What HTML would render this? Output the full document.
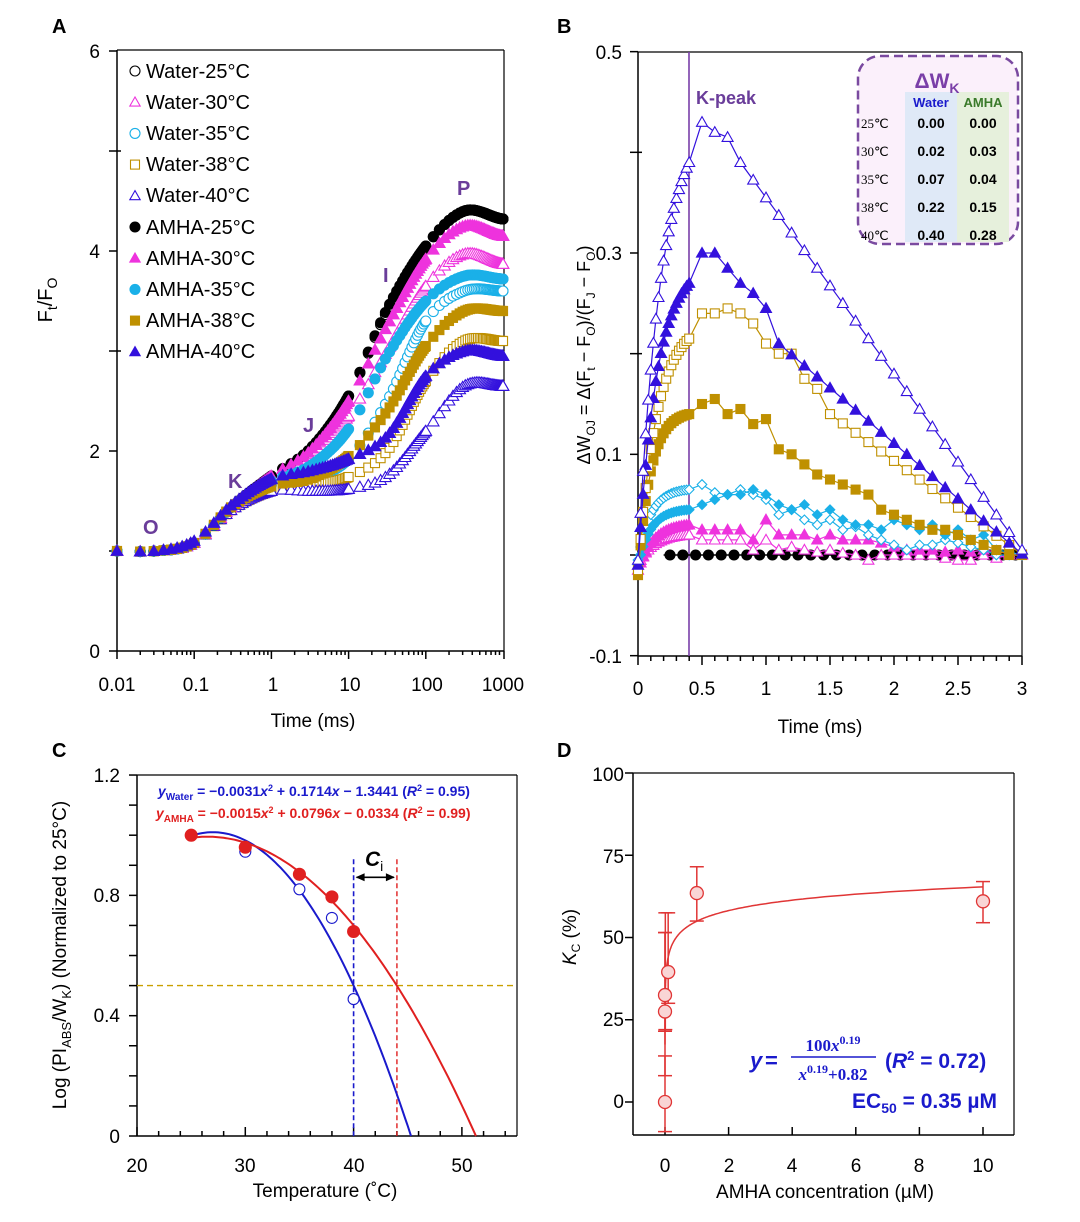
<!DOCTYPE html>
<html><head><meta charset="utf-8">
<style>
html,body{margin:0;padding:0;background:#fff;}
svg{display:block;font-family:"Liberation Sans",Arial,sans-serif;}
</style></head>
<body>
<svg id="s" width="1080" height="1222" viewBox="0 0 1080 1222" xmlns="http://www.w3.org/2000/svg">
<rect width="1080" height="1222" fill="#fff"/>
<g id="g"></g>
<g font-weight="bold" font-size="20" fill="#000">
<text x="52" y="33">A</text><text x="557" y="33">B</text>
<text x="52" y="757">C</text><text x="557" y="757">D</text>
</g>
<g font-size="19" text-anchor="middle" fill="#000">
<text x="117" y="691">0.01</text><text x="196" y="691">0.1</text><text x="273" y="691">1</text>
<text x="350" y="691">10</text><text x="427" y="691">100</text><text x="503" y="691">1000</text>
</g>
<g font-size="19" text-anchor="end" fill="#000">
<text x="100" y="58">6</text><text x="100" y="258">4</text><text x="100" y="458">2</text><text x="100" y="658">0</text>
</g>
<text x="313" y="727" font-size="19" text-anchor="middle">Time (ms)</text>
<text transform="translate(52,300) rotate(-90)" font-size="20" text-anchor="middle">F<tspan font-size="14" dy="5">t</tspan><tspan dy="-5">/F</tspan><tspan font-size="14" dy="5">O</tspan></text>
<g font-size="20" fill="#000">
<text x="146" y="78">Water-25°C</text><text x="146" y="109">Water-30°C</text><text x="146" y="140">Water-35°C</text>
<text x="146" y="171">Water-38°C</text><text x="146" y="202">Water-40°C</text><text x="146" y="234">AMHA-25°C</text>
<text x="146" y="265">AMHA-30°C</text><text x="146" y="296">AMHA-35°C</text><text x="146" y="327">AMHA-38°C</text>
<text x="146" y="358">AMHA-40°C</text>
</g>
<g font-size="20" font-weight="bold" fill="#6a3d9a">
<text x="143" y="534">O</text><text x="228" y="488">K</text><text x="303" y="432">J</text>
<text x="383" y="282">I</text><text x="457" y="195">P</text>
</g>
<g font-size="19" text-anchor="middle">
<text x="638" y="695">0</text><text x="702" y="695">0.5</text><text x="766" y="695">1</text><text x="830" y="695">1.5</text>
<text x="894" y="695">2</text><text x="958" y="695">2.5</text><text x="1022" y="695">3</text>
</g>
<g font-size="19" text-anchor="end">
<text x="622" y="59">0.5</text><text x="622" y="260">0.3</text><text x="622" y="461">0.1</text><text x="622" y="663">-0.1</text>
</g>
<text x="820" y="733" font-size="19" text-anchor="middle">Time (ms)</text>
<text transform="translate(590,355) rotate(-90)" font-size="18" text-anchor="middle">ΔW<tspan font-size="12" dy="5">OJ</tspan><tspan dy="-5"> = Δ(F</tspan><tspan font-size="12" dy="5">t</tspan><tspan dy="-5"> − F</tspan><tspan font-size="12" dy="5">O</tspan><tspan dy="-5">)/(F</tspan><tspan font-size="12" dy="5">J</tspan><tspan dy="-5"> − F</tspan><tspan font-size="12" dy="5">O</tspan><tspan dy="-5">)</tspan></text>
<text x="696" y="104" font-size="18" font-weight="bold" fill="#6a3d9a">K-peak</text>
<g font-size="19" text-anchor="middle">
<text x="137" y="1172">20</text><text x="245" y="1172">30</text><text x="354" y="1172">40</text><text x="462" y="1172">50</text>
</g>
<g font-size="19" text-anchor="end">
<text x="120" y="782">1.2</text><text x="120" y="902">0.8</text><text x="120" y="1022">0.4</text><text x="120" y="1143">0</text>
</g>
<text x="325" y="1197" font-size="19" text-anchor="middle">Temperature (˚C)</text>
<text transform="translate(66,955) rotate(-90)" font-size="19" text-anchor="middle">Log (PI<tspan font-size="13" dy="5">ABS</tspan><tspan dy="-5">/W</tspan><tspan font-size="13" dy="5">K</tspan><tspan dy="-5">) (Normalized  to 25°C)</tspan></text>
<g font-size="14" font-weight="bold">
<text x="158" y="796" fill="#1a1acc"><tspan font-style="italic">y</tspan><tspan font-size="10" dy="4">Water</tspan><tspan dy="-4"> = −0.0031</tspan><tspan font-style="italic">x</tspan><tspan font-size="9" dy="-5">2</tspan><tspan dy="5"> + 0.1714</tspan><tspan font-style="italic">x</tspan> − 1.3441 (<tspan font-style="italic">R</tspan><tspan font-size="9" dy="-5">2</tspan><tspan dy="5"> = 0.95)</tspan></text>
<text x="156" y="818" fill="#e02020"><tspan font-style="italic">y</tspan><tspan font-size="10" dy="4">AMHA</tspan><tspan dy="-4"> = −0.0015</tspan><tspan font-style="italic">x</tspan><tspan font-size="9" dy="-5">2</tspan><tspan dy="5"> + 0.0796</tspan><tspan font-style="italic">x</tspan> − 0.0334 (<tspan font-style="italic">R</tspan><tspan font-size="9" dy="-5">2</tspan><tspan dy="5"> = 0.99)</tspan></text>
</g>
<text x="365" y="866" font-size="21" font-weight="bold" font-style="italic">C<tspan font-size="14" font-style="normal" font-weight="normal" dy="5">i</tspan></text>
<g font-size="19" text-anchor="middle">
<text x="665" y="1172">0</text><text x="729" y="1172">2</text><text x="792" y="1172">4</text><text x="856" y="1172">6</text>
<text x="919" y="1172">8</text><text x="983" y="1172">10</text>
</g>
<g font-size="19" text-anchor="end">
<text x="624" y="781">100</text><text x="624" y="863">75</text><text x="624" y="944">50</text><text x="624" y="1026">25</text><text x="624" y="1108">0</text>
</g>
<text x="825" y="1198" font-size="19" text-anchor="middle">AMHA concentration (µM)</text>
<text transform="translate(576,937) rotate(-90)" font-size="19" text-anchor="middle"><tspan font-style="italic">K</tspan><tspan font-size="12" dy="4">C</tspan><tspan dy="-4"> (%)</tspan></text>
<g fill="#1a1acc" font-weight="bold">
<text x="750" y="1068" font-size="22" font-style="italic">y</text>
<text x="765" y="1068" font-size="22">=</text>
<text x="833" y="1051" font-size="17" font-family="Liberation Serif,serif" text-anchor="middle">100<tspan font-style="italic">x</tspan><tspan font-size="12" dy="-7">0.19</tspan></text>
<line x1="791" y1="1057" x2="876" y2="1057" stroke="#1a1acc" stroke-width="1.4"/>
<text x="833" y="1080" font-size="17" font-family="Liberation Serif,serif" text-anchor="middle"><tspan font-style="italic">x</tspan><tspan font-size="12" dy="-7">0.19</tspan><tspan dy="7">+0.82</tspan></text>
<text x="885" y="1068" font-size="21">(<tspan font-style="italic">R</tspan><tspan font-size="13" dy="-8">2</tspan><tspan dy="8"> = 0.72)</tspan></text>
<text x="997" y="1108" font-size="21" text-anchor="end">EC<tspan font-size="14" dy="5">50</tspan><tspan dy="-5"> = 0.35 µM</tspan></text>
</g>
</svg>
<script>
(function(){
var out=[];
function P(s){out.push(s);}
function mk(type,x,y,col,fill,r){
  var f=fill?col:'#fff', sw=1.1;
  if(type=='c') P('<circle cx="'+x.toFixed(1)+'" cy="'+y.toFixed(1)+'" r="'+r+'" fill="'+f+'" stroke="'+col+'" stroke-width="'+sw+'"/>');
  else if(type=='t'){var h=r*1.15;P('<polygon points="'+x.toFixed(1)+','+(y-h).toFixed(1)+' '+(x-h).toFixed(1)+','+(y+h*0.75).toFixed(1)+' '+(x+h).toFixed(1)+','+(y+h*0.75).toFixed(1)+'" fill="'+f+'" stroke="'+col+'" stroke-width="'+sw+'"/>');}
  else if(type=='s') P('<rect x="'+(x-r).toFixed(1)+'" y="'+(y-r).toFixed(1)+'" width="'+(2*r)+'" height="'+(2*r)+'" fill="'+f+'" stroke="'+col+'" stroke-width="'+sw+'"/>');
  else if(type=='d') P('<polygon points="'+x.toFixed(1)+','+(y-r).toFixed(1)+' '+(x+r).toFixed(1)+','+y.toFixed(1)+' '+x.toFixed(1)+','+(y+r).toFixed(1)+' '+(x-r).toFixed(1)+','+y.toFixed(1)+'" fill="'+f+'" stroke="'+col+'" stroke-width="'+sw+'"/>');
}
function L(x1,y1,x2,y2,c,w,d){P('<line x1="'+x1+'" y1="'+y1+'" x2="'+x2+'" y2="'+y2+'" stroke="'+(c||'#000')+'" stroke-width="'+(w||1.5)+'"'+(d?' stroke-dasharray="'+d+'"':'')+'/>');}
var BLK='#000',MAG='#ee33dd',CY='#1ab0e8',GD='#bf9000',PU='#3311dd';

/* Panel A */
var AX0=117,AX1=504,AY0=651;
function ax(t){return 117+(Math.log10(t)+2)*77.2;}
function ay(v){return 651-v*100;}
L(AX0,50,AX0,AY0);L(AX0,AY0,AX1,AY0);L(AX1,50,AX1,AY0,'#000',1.2);L(AX0,50,AX1,50,'#000',1.2);
[6,5,4,3,2,1,0].forEach(function(v){L(AX0-8,ay(v),AX0+(v%2?4:0),ay(v));});
for(var d=-2;d<3;d++){for(var k=1;k<10;k++){var x=ax(k*Math.pow(10,d));L(x,AY0,x,AY0+(k==1?8:4));}}
L(AX1,AY0,AX1,AY0+8);
var nodes=[-2,-1.5,-1,-0.5,0,0.5,1,1.5,2,2.5,3];
var SA=[
 ['c',BLK,0,[1,1,1.08,1.45,1.75,2.02,2.55,3.4,4.05,4.4,4.32]],
 ['t',MAG,0,[1,1,1.08,1.45,1.72,1.95,2.35,3.0,3.65,3.97,3.87]],
 ['c',CY,0,[1,1,1.08,1.44,1.66,1.72,1.92,2.5,3.3,3.6,3.6]],
 ['s',GD,0,[1,1,1.08,1.42,1.6,1.66,1.74,2.0,2.7,3.1,3.1]],
 ['t',PU,0,[1,1,1.08,1.42,1.6,1.6,1.62,1.75,2.2,2.65,2.65]],
 ['c',BLK,1,[1,1,1.08,1.45,1.75,2.02,2.55,3.42,4.05,4.4,4.32]],
 ['t',MAG,1,[1,1,1.08,1.45,1.75,2.0,2.5,3.25,3.92,4.25,4.15]],
 ['c',CY,1,[1,1,1.08,1.45,1.7,1.85,2.22,2.95,3.5,3.75,3.72]],
 ['s',GD,1,[1,1,1.08,1.45,1.65,1.72,1.95,2.4,3.05,3.4,3.4]],
 ['t',PU,1,[1,1,1.1,1.47,1.72,1.8,1.92,2.15,2.75,3.0,2.95]]
];
function interp(v,lt){
  var i=Math.min(Math.floor((lt+2)/0.5),9);if(i<0)i=0;
  var u=(lt-nodes[i])/0.5;
  var p0=v[Math.max(i-1,0)],p1=v[i],p2=v[i+1],p3=v[Math.min(i+2,10)];
  return 0.5*((2*p1)+(-p0+p2)*u+(2*p0-5*p1+4*p2-p3)*u*u+(-p0+3*p1-3*p2+p3)*u*u*u);
}
var ts=[];
function rng(a,b,s){for(var t=a;t<b-1e-9;t+=s)ts.push(t);}
rng(0.01,0.1,0.01);rng(0.1,1,0.04);rng(1,10,0.4);rng(10,100,4);rng(100,1000.1,25);ts.push(1000);
SA.forEach(function(s){ts.forEach(function(t){var v=interp(s[3],Math.log10(t));mk(s[0],ax(t),ay(v),s[1],s[2],s[0]=='s'?4.5:5);});});
SA.forEach(function(s,i){mk(s[0],135,71+i*31.2,s[1],s[2],s[0]=='c'?5:4.5);});

/* Panel B */
var BX0=638,BX1=1022;
function bx(t){return 638+t*128;}
function by(v){return 555-v*1006.7;}
L(BX0,52,BX0,656);L(BX0,656,BX1,656);L(BX1,52,BX1,656,'#000',1.2);L(BX0,52,BX1,52,'#000',1.2);
for(var i=0;i<=6;i++){var v=0.5-i*0.1;L(BX0-8,by(v),BX0+(i%2?4:0),by(v));}
for(var i=0;i<=30;i++){var x=bx(i*0.1);L(x,656,x,656+(i%5==0?9:5));}
L(689,52,689,656,'#7a3fa8',1.6);
P('<rect x="858" y="56" width="160" height="188" rx="22" fill="#fbf0fb" stroke="#7a4aa0" stroke-width="2.5" stroke-dasharray="9,5"/>');
P('<rect x="905" y="92" width="52" height="150" fill="#dfe9f7"/><rect x="957" y="92" width="52" height="150" fill="#e6f0dc"/>');
P('<text x="937" y="88" font-size="21" font-weight="bold" fill="#7a3fa8" text-anchor="middle">ΔW<tspan font-size="14" dy="5">K</tspan></text>');
P('<text x="931" y="107" font-size="13" font-weight="bold" fill="#1a1acc" text-anchor="middle">Water</text><text x="983" y="107" font-size="13" font-weight="bold" fill="#3a7a2a" text-anchor="middle">AMHA</text>');
var tr=[['25℃','0.00','0.00'],['30℃','0.02','0.03'],['35℃','0.07','0.04'],['38℃','0.22','0.15'],['40℃','0.40','0.28']];
tr.forEach(function(r,i){var y=128+i*28;P('<text x="861" y="'+y+'" font-size="13" font-family="Liberation Serif,serif">'+r[0]+'</text><text x="931" y="'+y+'" font-size="14" font-weight="bold" text-anchor="middle">'+r[1]+'</text><text x="983" y="'+y+'" font-size="14" font-weight="bold" text-anchor="middle">'+r[2]+'</text>');});
var late=[];for(var i=4;i<=30;i++)late.push(i/10);
var W40=late.map(function(t){if(t<=0.4)return .39;if(t<=0.5)return .43;if(t<=0.6)return .42;if(t<=0.7)return .415;return Math.max(0.39-(t-0.8)*0.175,0);});
var A40=late.map(function(t){var m={0.4:.27,0.5:.3,0.6:.3,0.7:.285,0.8:.27,0.9:.26,1:.245};var k=Math.round(t*10)/10;if(m[k]!==undefined)return m[k];return Math.max(0.21-(t-1.1)*0.11,0);});
var W38=late.map(function(t){var a=[.215,.24,.24,.245,.24,.23,.21,.2,.2,.175,.165,.14];var k=Math.round(t*10)-4;if(k<a.length)return a[k];return Math.max(0.14-(t-1.5)*0.093,0);});
var A38=[.14,.15,.155,.14,.145,.13,.135,.105,.1,.09,.08,.075,.07,.065,.06,.045,.04,.035,.03,.025,.025,.02,.015,.01,.005,0,0];
var W35=[.065,.07,.062,.06,.065,.06,.055,.04,.045,.035,.03,.035,.025,.028,.02,.015,.01,.005,.01,.01,.015,.012,.008,.005,0,0,0];
var A35=[.045,.05,.055,.06,.06,.065,.06,.05,.045,.05,.04,.045,.035,.03,.03,.025,.035,.03,.025,.03,.02,.025,.015,.02,.005,.003,0];
var A30=[.03,.025,.025,.025,.025,.015,.035,.02,.02,.02,.015,.02,.015,.015,.015,.012,.008,.005,.005,.005,.003,.005,.003,.005,.003,.002,0];
var W30=[.02,.015,.015,.015,.015,.005,.015,.005,.008,.005,.003,.005,.002,0,-.005,0,0,0,0,0,-.003,-.005,-.005,0,-.003,0,0];
var early=[];for(var t=0;t<0.39;t+=0.02)early.push(t);
function full(arr,tau,v0){var p=arr[0];var pts=early.map(function(t){var v=v0+(p-v0)*(1-Math.exp(-t/tau))/(1-Math.exp(-0.4/tau));return [t,v];});late.forEach(function(t,i){pts.push([t,arr[i]]);});return pts;}
var SB=[
 [W30,'t',MAG,0,0.12,-0.01],[A30,'t',MAG,1,0.12,-0.015],
 [W35,'d',CY,0,0.1,-0.005],[A35,'d',CY,1,0.1,-0.01],
 [A38,'s',GD,1,0.1,-0.02],[W38,'s',GD,0,0.15,-0.015],
 [A40,'t',PU,1,0.15,-0.01],[W40,'t',PU,0,0.18,-0.005]
];
var bk=[];for(var t=0.25;t<=3.001;t+=0.1)bk.push(t);
L(bx(0.2),by(0),bx(3),by(0),'#000',1.5);
bk.forEach(function(t){mk('c',bx(t),by(0),BLK,1,5);});
SB.forEach(function(s){var pts=full(s[0],s[4],s[5]);var d=pts.map(function(p,i){return (i?'L':'M')+bx(p[0]).toFixed(1)+','+by(p[1]).toFixed(1);}).join('');P('<path d="'+d+'" fill="none" stroke="'+s[2]+'" stroke-width="1.2"/>');pts.forEach(function(p){mk(s[1],bx(p[0]),by(p[1]),s[2],s[3],s[1]=='s'?4.5:4.8);});});

/* Panel C */
function cx(T){return 137+(T-20)*10.83;}
function cy(v){return 1136-v*300.8;}
L(137,775,137,1136);L(137,1136,517,1136);L(517,775,517,1136,'#000',1.2);L(137,775,517,775,'#000',1.2);
for(var i=0;i<=12;i++){var v=i*0.1;L(137-8,cy(v),137,cy(v));}
for(var T=20;T<=55;T+=2){L(cx(T),1136,cx(T),1136-(T%10==0?9:5));}
L(137,cy(0.5),517,cy(0.5),'#c9a000',1.4,'6,4');
L(cx(40),cy(0.92),cx(40),1136,'#1a1acc',1.6,'5,3');
L(cx(44),cy(0.92),cx(44),1136,'#e02020',1.4,'5,3');
function curve(a,k,T0,col){var r=T0+Math.sqrt(a/k);var d='';for(var T=25;T<r;T+=0.25){var v=a-k*(T-T0)*(T-T0);d+=(d?'L':'M')+cx(T).toFixed(1)+','+cy(v).toFixed(1);}
 d+='L'+cx(r).toFixed(1)+','+cy(0).toFixed(1);
 P('<path d="'+d+'" fill="none" stroke="'+col+'" stroke-width="2"/>');}
curve(1.01,0.003016,27,'#1a1acc');
curve(0.995,0.001618,26.5,'#e02020');
[[25,1.0],[30,0.945],[35,0.82],[38,0.725],[40,0.455]].forEach(function(p){mk('c',cx(p[0]),cy(p[1]),'#1a1acc',0,5.5);});
[[25,1.0],[30,0.96],[35,0.87],[38,0.795],[40,0.68]].forEach(function(p){mk('c',cx(p[0]),cy(p[1]),'#e02020',1,6);});
L(cx(40)+3,cy(0.86),cx(44)-3,cy(0.86),'#000',1.6);
P('<polygon points="'+(cx(40)+2)+','+cy(0.86)+' '+(cx(40)+11)+','+(cy(0.86)-4)+' '+(cx(40)+11)+','+(cy(0.86)+4)+'"/>');
P('<polygon points="'+(cx(44)-2)+','+cy(0.86)+' '+(cx(44)-11)+','+(cy(0.86)-4)+' '+(cx(44)-11)+','+(cy(0.86)+4)+'"/>');

/* Panel D */
function dx(c){return 665+c*31.8;}
function dy(v){return 1102-v*3.29;}
L(633,773,633,1135);L(633,1135,1014,1135);L(1014,773,1014,1135,'#000',1.2);L(633,773,1014,773,'#000',1.2);
[100,75,50,25,0].forEach(function(v){L(625,dy(v),633,dy(v));});
for(var c=0;c<=10;c+=2)L(dx(c),1135,dx(c),1127);
var RC='#e03535';
function eb(x,lo,hi){L(x,dy(lo),x,dy(hi),RC,1.5);L(x-7,dy(lo),x+7,dy(lo),RC,1.5);L(x-7,dy(hi),x+7,dy(hi),RC,1.5);}
eb(dx(0),-9,14);eb(dx(0),8,51.5);eb(dx(0),21.5,51.5);eb(dx(0.01),22,57.5);eb(dx(0.1),30,57.5);
eb(dx(1),55,71.5);eb(dx(10),54.5,67);
var d='';for(var i=0;i<=400;i++){var c=Math.pow(10,-4+i*5/400);var v=100*Math.pow(c,0.19)/(Math.pow(c,0.19)+0.82);d+=(i?'L':'M')+dx(c).toFixed(1)+','+dy(v).toFixed(1);}
P('<path d="'+d+'" fill="none" stroke="'+RC+'" stroke-width="1.5"/>');
[[0,0],[0,27.5],[0,32.5],[0.1,39.5],[1,63.5],[10,61]].forEach(function(p){P('<circle cx="'+dx(p[0])+'" cy="'+dy(p[1])+'" r="6.5" fill="#f9d5d5" stroke="'+RC+'" stroke-width="1.3"/>');});

document.getElementById('g').innerHTML=out.join('');
})();
</script>
</body></html>
